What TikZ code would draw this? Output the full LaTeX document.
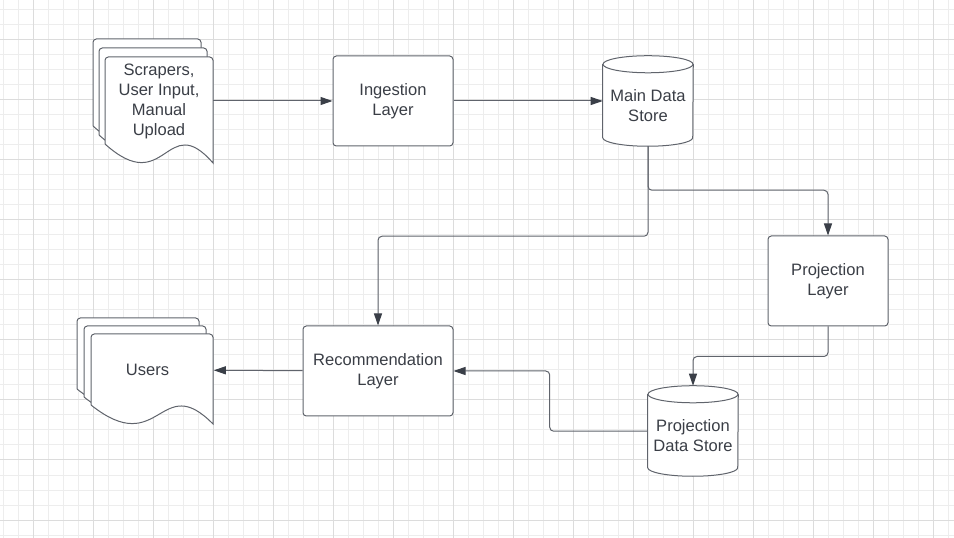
\documentclass[tikz,border=0pt]{standalone}
\usepackage{fontspec}
\setmainfont{Liberation Sans}
\usetikzlibrary{arrows.meta,positioning}
\definecolor{gridminor}{RGB}{237,237,237}
\definecolor{gridmajor}{RGB}{220,220,220}
\definecolor{ink}{RGB}{96,100,108}
\definecolor{tip}{RGB}{58,63,72}
\definecolor{txt}{RGB}{58,62,70}
\pgfdeclarelayer{grid}
\pgfdeclarelayer{back}
\pgfsetlayers{grid,back,main}

% one page of a stacked document: left, top, width, height (px)
\newcommand{\docpage}[4]{%
  \filldraw[page] (#1,{#2+#4-19}) [rounded corners=2.5pt] -- (#1,#2) -- ({#1+#3},#2) [sharp corners] -- ({#1+#3},{#2+#4})
    .. controls ({#1+0.566*#3},{#2+#4-54}) and ({#1+0.566*#3},{#2+#4+36}) .. (#1,{#2+#4-19});}
% cylinder round a store node
\newcommand{\drum}[1]{%
  \filldraw[page] (#1.north west) -- ([yshift=6.4pt]#1.south west) arc[start angle=180,end angle=360,x radius=33.75pt,y radius=6.4pt] -- (#1.north east);
  \filldraw[page] (#1.north) ellipse[x radius=33.75pt,y radius=6.4pt];}

\begin{document}
\begin{tikzpicture}[x=0.75pt, y=-0.75pt,
  every node/.style={font=\fontsize{12.4}{15}\selectfont, text=txt, align=center},
  page/.style={draw=ink, fill=white, line width=0.75pt},
  box/.style={draw=ink, fill=white, line width=0.75pt, rounded corners=2.5pt, minimum width=90pt, minimum height=67.5pt},
  store/.style={minimum width=67.5pt, minimum height=61.1pt, inner sep=0pt},
  link/.style={draw=ink, line width=0.75pt, rounded corners=3pt, -{Triangle[length=9pt,width=6pt,color=tip]}}]

  \useasboundingbox (0,0) rectangle (954,538);
  \begin{pgfonlayer}{grid}
    \fill[white] (0,0) rectangle (954,538);
    \foreach \x in {3,18,...,948} \draw[gridminor, line width=0.75pt] (\x,0) -- (\x,538);
    \foreach \y in {10,25,...,535} \draw[gridminor, line width=0.75pt] (0,\y) -- (954,\y);
    \foreach \x in {33,93,...,933} \draw[gridmajor, line width=0.75pt] (\x,0) -- (\x,538);
    \foreach \y in {40,100,...,520} \draw[gridmajor, line width=0.75pt] (0,\y) -- (954,\y);
  \end{pgfonlayer}

  \node[minimum width=81pt, inner sep=0pt] (src) at (159,101) {Scrapers,\\User Input,\\Manual\\Upload};
  \node[box] (ingest) at (393,101) {Ingestion\\Layer};
  \node[store] (store) at (648,105.25) {Main Data\\Store};
  \node[box] (proj) at (828,281) {Projection\\Layer};
  \node[box, minimum width=112.5pt] (rec) at (378,371) {Recommendation\\Layer};
  \node[store] (pstore) at (693,435.25) {Projection\\Data Store};
  \node[minimum width=99pt, inner sep=0pt] (users) at (147.5,370) {Users};

  \begin{pgfonlayer}{back}
    \foreach \l/\t in {93/39, 99/48, 105/57} \docpage{\l}{\t}{108}{106};
    \foreach \l/\t in {77/318, 84/326, 91/334} \docpage{\l}{\t}{122}{90};
    \drum{store}
    \drum{pstore}
  \end{pgfonlayer}

  \draw[link] (src) -- (ingest);
  \draw[link] (ingest) -- (ingest -| store.west);
  \draw[link] (store.south) -- ++(0,44) -| (proj.north);
  \draw[link] (store.south) -- ++(0,90) -| (rec.north);
  \draw[link] (proj.south) -- ++(0,30) -| ([yshift=6.4pt]pstore.north);
  \draw[link] ([yshift=3pt]pstore.west) -- ++(-98,0) |- (rec.east);
  \draw[link] (rec) -- (users);
\end{tikzpicture}
\end{document}
